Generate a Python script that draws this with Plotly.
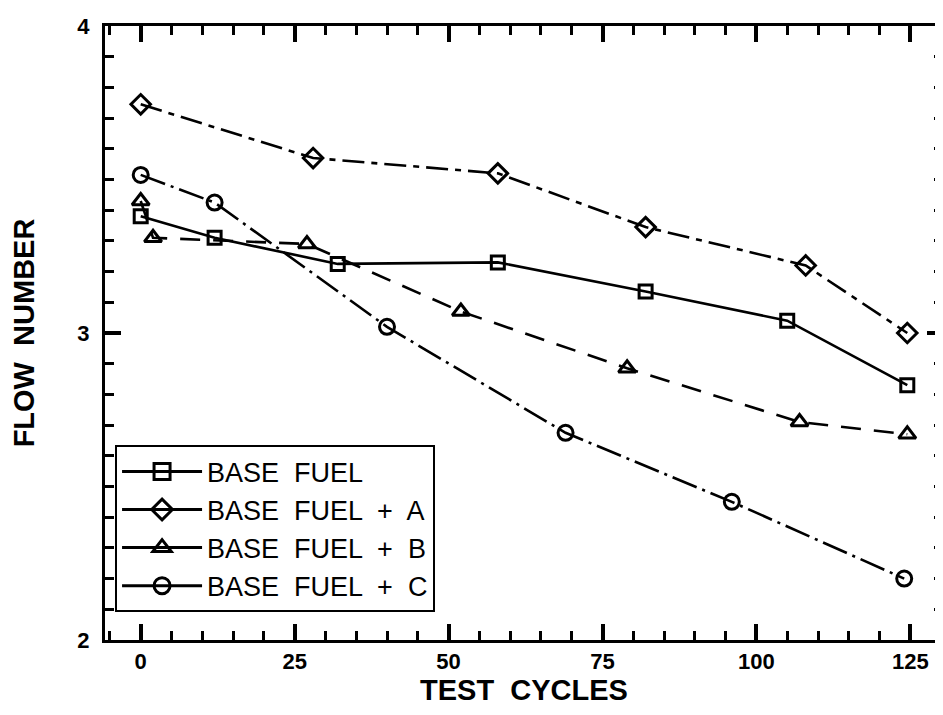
import plotly.graph_objects as go

# Flow number vs test cycles, four fuels
base_x = [0, 12, 32, 58, 82, 105, 124.5]
base_y = [3.38, 3.31, 3.225, 3.23, 3.135, 3.04, 2.83]

a_x = [0, 28, 58, 82, 108, 124.5]
a_y = [3.745, 3.57, 3.52, 3.345, 3.22, 3.0]

b_x = [0, 2, 27, 52, 79, 107, 124.5]
b_y = [3.43, 3.31, 3.29, 3.07, 2.885, 2.71, 2.67]

c_x = [0, 12, 40, 69, 96, 124]
c_y = [3.515, 3.425, 3.02, 2.675, 2.45, 2.2]

names = ["BASE  FUEL", "BASE  FUEL  +  A", "BASE  FUEL  +  B", "BASE  FUEL  +  C"]

FONT = "Liberation Sans"

series = [
    (base_x, base_y, names[0], "square-open", "solid", 13),
    (a_x, a_y, names[1], "diamond-open", "22px,7px,6px,7px", 15),
    (b_x, b_y, names[2], "triangle-up-open", "20px,13px", 15),
    (c_x, c_y, names[3], "circle-open", "26px,6px,3px,6px", 15),
]

fig = go.Figure()
for xs, ys, name, sym, dash, size in series:
    fig.add_trace(go.Scatter(
        x=xs, y=ys, name=name, mode="lines+markers", showlegend=False,
        line=dict(color="black", width=2.6, dash=dash),
        marker=dict(symbol=sym, size=size, color="black",
                    line=dict(color="black", width=3)),
    ))

# legend keys in the original are drawn with solid lines
for xs, ys, name, sym, dash, size in series:
    fig.add_trace(go.Scatter(
        x=[None], y=[None], name=name, mode="lines+markers",
        line=dict(color="black", width=3),
        marker=dict(symbol=sym, size=size + 3, color="black",
                    line=dict(color="black", width=3)),
    ))

fig.update_xaxes(
    range=[-5.8, 130.3], dtick=25,
    showline=True, linecolor="black", linewidth=3, mirror="ticks",
    ticks="inside", ticklen=16, tickwidth=3.5, tickcolor="black",
    minor=dict(dtick=5, ticks="inside", ticklen=9, tickwidth=3, tickcolor="black"),
    tickfont=dict(family=FONT, size=22, color="black", weight="bold"),
    title=dict(text="TEST  CYCLES", standoff=6,
               font=dict(family=FONT, size=29, color="black", weight="bold")),
)
fig.update_yaxes(
    range=[2, 4], dtick=1,
    showline=True, linecolor="black", linewidth=3, mirror="ticks",
    ticks="inside", ticklen=16, tickwidth=3.5, tickcolor="black",
    minor=dict(dtick=0.1, ticks="inside", ticklen=9, tickwidth=3, tickcolor="black"),
    tickfont=dict(family=FONT, size=22, color="black", weight="bold"),
    ticklabelstandoff=8,
    title=dict(text="FLOW  NUMBER", standoff=38,
               font=dict(family=FONT, size=29, color="black", weight="bold")),
)

fig.update_layout(
    width=943, height=715,
    margin=dict(l=97, r=5, t=18, b=83),
    paper_bgcolor="white", plot_bgcolor="white",
    showlegend=True,
    legend=dict(
        x=0.012, y=0.045, xanchor="left", yanchor="bottom",
        bgcolor="white", bordercolor="black", borderwidth=2,
        font=dict(family=FONT, size=27, color="black"),
        itemwidth=80, tracegroupgap=4,
    ),
)

fig.write_html("out.html")
